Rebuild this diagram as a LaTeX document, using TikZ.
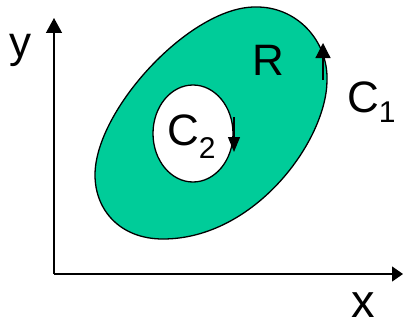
\documentclass[tikz,border=0pt]{standalone}
\usepackage{fontspec}
\setmainfont{Liberation Sans}
\usetikzlibrary{arrows.meta,shapes.geometric}
\definecolor{regiongreen}{RGB}{0,204,153}
\begin{document}
\begin{tikzpicture}[x=1pt,y=-1pt,
  lbl/.style={inner sep=0pt,anchor=base west,font=\fontsize{44}{48}\selectfont},
  axis/.style={line width=1.3pt},
  curve/.style={line width=1.3pt,draw=black},
  flow/.style={line width=1.2pt}]
\useasboundingbox (0,0) rectangle (403,321);
% region
\coordinate (T) at (255,7);
\coordinate (Rt) at (327,80);
\coordinate (B) at (163,239);
\coordinate (L) at (95,175);
\draw[curve,fill=regiongreen] (T) .. controls (296,6) and (328,40) .. (Rt)
  .. controls (327,140) and (255,239) .. (B)
  .. controls (120,239) and (95,210) .. (L)
  .. controls (95,110) and (190,7) .. (T) -- cycle;
\node[curve,fill=white,ellipse,minimum width=80pt,minimum height=97pt,inner sep=0pt] (hole) at (193,133.5) {};
% axes
\coordinate (O) at (54,274);
\coordinate (Ytip) at (54,18);
\coordinate (Xtip) at (403,274);
\draw[axis,-{Triangle[length=15pt,width=16pt]}] (O) -- (Ytip);
\draw[axis,-{Triangle[length=11pt,width=15pt]}] (O) -- (Xtip);
% orientation arrows
\coordinate (a1s) at (323,80);
\coordinate (a1e) at (323,43);
\draw[flow,-{Triangle[length=15pt,width=15pt]}] (a1s) -- (a1e);
\coordinate (a2s) at (234,117);
\coordinate (a2e) at (234,152);
\draw[flow,-{Triangle[length=15pt,width=12pt]}] (a2s) -- (a2e);
% labels
\node[lbl] (ylab) at (9,57) {y};
\node[lbl,font=\fontsize{47}{50}\selectfont] (xlab) at (351,317) {x};
\node[lbl] (Rlab) at (252,75) {R};
\node[lbl] (C1) at (347,112) {C\raisebox{-10pt}{\fontsize{30}{30}\selectfont 1}};
\node[lbl] (C2) at (167,145) {C\raisebox{-13pt}{\fontsize{30}{30}\selectfont 2}};
\end{tikzpicture}
\end{document}
